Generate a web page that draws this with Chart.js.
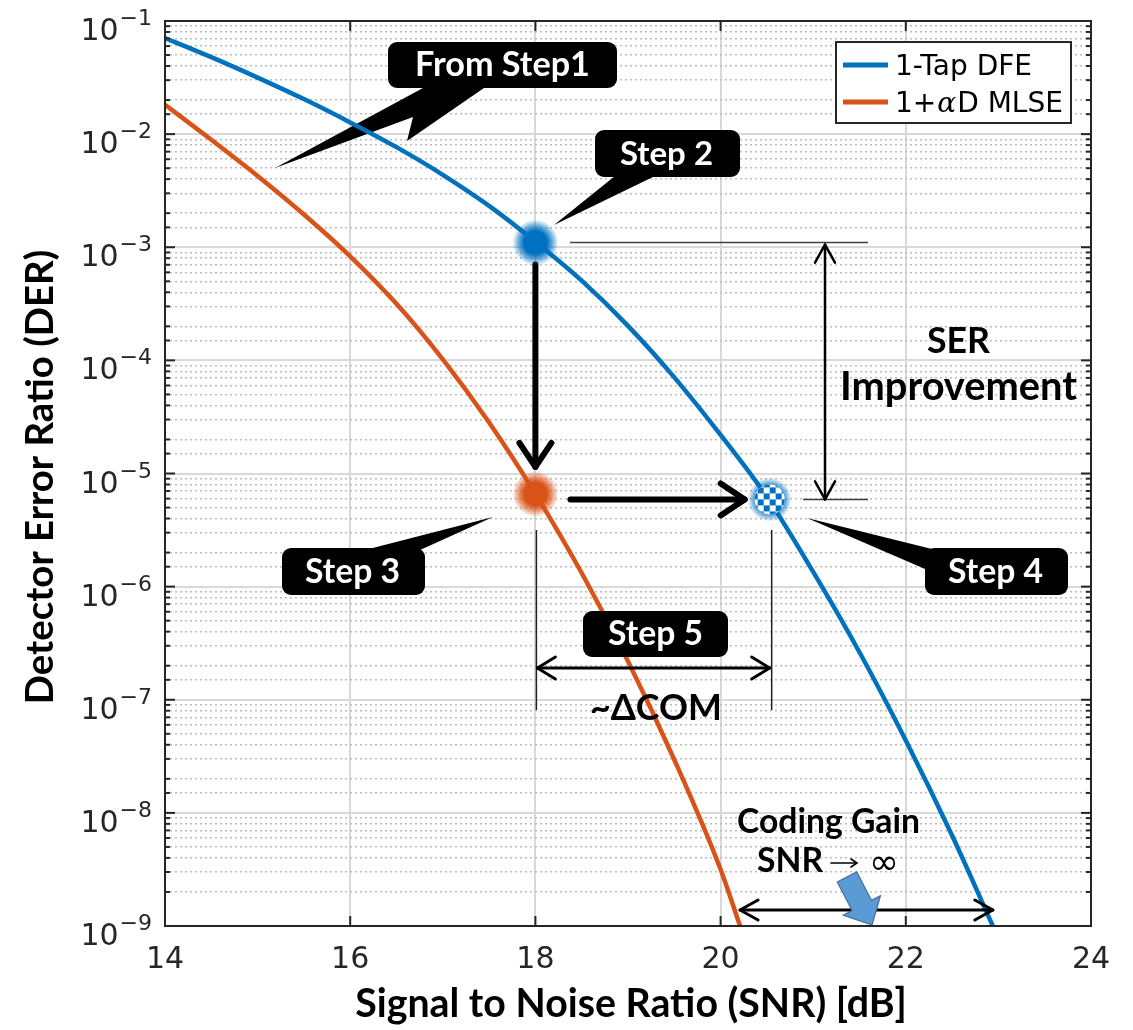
<!DOCTYPE html>
<html>
<head>
<meta charset="utf-8">
<script src="https://cdn.jsdelivr.net/npm/chart.js@4.4.1/dist/chart.umd.min.js"></script>
<style>
  html, body { margin: 0; background: #fff; }
  #wrap { width: 1133px; height: 1030px; }
</style>
</head>
<body>
<div id="wrap"><canvas id="derChart" width="1133" height="1030"></canvas></div>
<script>
  // values
  const dfeSnr = [14, 14.5, 15, 15.5, 16, 16.5, 17, 17.5, 18, 18.5, 19, 19.5, 20, 20.5, 21, 21.5, 22, 22.5, 22.94];
  const dfeDer = [7.08e-2, 4.79e-2, 3.16e-2, 2.04e-2, 1.27e-2, 7.67e-3, 4.37e-3, 2.32e-3, 1.12e-3, 5.07e-4, 2.02e-4, 7.08e-5, 2.19e-5, 6.2e-6, 1.35e-6, 2.63e-7, 4.37e-8, 6.31e-9, 1.0e-9];
  const mlseSnr = [14, 14.5, 15, 15.5, 16, 16.5, 17, 17.5, 18, 18.5, 19, 19.5, 20, 20.21];
  const mlseDer = [1.82e-2, 8.91e-3, 4.27e-3, 1.95e-3, 8.32e-4, 3.16e-4, 1.02e-4, 2.82e-5, 6.61e-6, 1.32e-6, 2.19e-7, 2.95e-8, 3.16e-9, 1.0e-9];
  const seriesLabels = ["1-Tap DFE", "1+αD MLSE"];
  const seriesColors = ["#0072BD", "#D95319"];
  const xTicks = [14, 16, 18, 20, 22, 24];
  // step 2 / step 3 / step 4 points
  const stepSnr = [18, 18, 20.53];
  const stepDer = [1.1e-3, 6.6e-6, 5.9e-6];

  const AX = "#262626";
  const BOLD = 'Lato, "Open Sans", sans-serif';
  const TICKFONT = '"DejaVu Sans", sans-serif';

  function isDecade(v) {
    const l = Math.log10(v);
    return Math.abs(l - Math.round(l)) < 1e-6;
  }

  function fitText(ctx, str, x, base, width, opt = {}) {
    const weight = opt.weight || "bold";
    const family = opt.family || BOLD;
    ctx.font = `${weight} 100px ${family}`;
    const size = (100 * width) / ctx.measureText(str).width;
    ctx.font = `${weight} ${size.toFixed(1)}px ${family}`;
    ctx.fillStyle = opt.color || "#000";
    ctx.textAlign = opt.align || "center";
    ctx.textBaseline = "alphabetic";
    ctx.fillText(str, x, base);
    return size;
  }

  function roundBox(ctx, x, y, w, h, r) {
    ctx.beginPath();
    ctx.moveTo(x + r, y);
    ctx.arcTo(x + w, y, x + w, y + h, r);
    ctx.arcTo(x + w, y + h, x, y + h, r);
    ctx.arcTo(x, y + h, x, y, r);
    ctx.arcTo(x, y, x + w, y, r);
    ctx.closePath();
    ctx.fillStyle = "#000";
    ctx.fill();
  }

  function poly(ctx, pts, fill) {
    ctx.beginPath();
    ctx.moveTo(pts[0][0], pts[0][1]);
    for (let i = 1; i < pts.length; i++) ctx.lineTo(pts[i][0], pts[i][1]);
    ctx.closePath();
    ctx.fillStyle = fill;
    ctx.fill();
  }

  function seg(ctx, x1, y1, x2, y2, w, color) {
    ctx.beginPath();
    ctx.moveTo(x1, y1);
    ctx.lineTo(x2, y2);
    ctx.lineWidth = w;
    ctx.strokeStyle = color;
    ctx.stroke();
  }

  function chevron(ctx, tx, ty, dx, dy, len, half) {
    const nx = -dy, ny = dx;
    ctx.beginPath();
    ctx.moveTo(tx - dx * len + nx * half, ty - dy * len + ny * half);
    ctx.lineTo(tx, ty);
    ctx.lineTo(tx - dx * len - nx * half, ty - dy * len - ny * half);
    ctx.stroke();
  }

  function arrow(ctx, x1, y1, x2, y2, w, len, half, both) {
    ctx.save();
    ctx.lineCap = "round";
    ctx.lineJoin = "round";
    seg(ctx, x1, y1, x2, y2, w, "#000");
    const L = Math.hypot(x2 - x1, y2 - y1);
    const dx = (x2 - x1) / L, dy = (y2 - y1) / L;
    chevron(ctx, x2, y2, dx, dy, len, half);
    if (both) chevron(ctx, x1, y1, -dx, -dy, len, half);
    ctx.restore();
  }

  function glow(ctx, x, y, r, rgb) {
    const g = ctx.createRadialGradient(x, y, 0, x, y, r);
    g.addColorStop(0, `rgba(${rgb},1)`);
    g.addColorStop(0.5, `rgba(${rgb},1)`);
    g.addColorStop(0.75, `rgba(${rgb},0.55)`);
    g.addColorStop(1, `rgba(${rgb},0)`);
    ctx.fillStyle = g;
    ctx.beginPath();
    ctx.arc(x, y, r, 0, Math.PI * 2);
    ctx.fill();
  }

  const matlabFrame = {
    id: "matlabFrame",
    beforeDatasetsDraw(chart) {
      const ctx = chart.ctx;
      // "From Step1" callout sits under the curves
      poly(ctx, [[275, 168], [413, 117], [407, 141], [484, 88], [423, 88]], "#000");
      roundBox(ctx, 388, 42, 229, 46, 9);
      fitText(ctx, "From Step1", 502.5, 76, 175, { color: "#fff" });
    },
    afterDatasetsDraw(chart) {
      const ctx = chart.ctx;
      const xs = chart.scales.x, ys = chart.scales.y;
      const p = stepSnr.map((s, i) => [xs.getPixelForValue(s), ys.getPixelForValue(stepDer[i])]);

      // reference lines
      seg(ctx, 570, p[0][1], 868, p[0][1], 1.5, "#404040");
      seg(ctx, 803, p[2][1], 868, p[2][1], 1.5, "#404040");
      seg(ctx, p[1][0] + 1, 530, p[1][0] + 1, 710, 1.5, "#202020");
      seg(ctx, p[2][0] + 2, 530, p[2][0] + 2, 710, 1.5, "#202020");

      // arrows
      arrow(ctx, p[0][0], p[0][1] + 22, p[0][0], p[1][1] - 27, 6, 24, 16, false);
      arrow(ctx, p[1][0] + 35, p[2][1], p[2][0] - 25, p[2][1], 6, 24, 16, false);
      arrow(ctx, 825, p[0][1] + 2, 825, p[2][1], 2.5, 18, 10, true);
      arrow(ctx, p[1][0] + 2, 668, p[2][0], 668, 3, 18, 11, true);
      const xg1 = xs.getPixelForValue(mlseSnr[mlseSnr.length - 1]);
      const xg2 = xs.getPixelForValue(dfeSnr[dfeSnr.length - 1]);
      arrow(ctx, xg1, 910, xg2, 910, 3, 18, 10, true);

      // blue block arrow
      {
        const t0 = [847, 877], tip = [872, 925];
        const L = Math.hypot(tip[0] - t0[0], tip[1] - t0[1]);
        const ux = (tip[0] - t0[0]) / L, uy = (tip[1] - t0[1]) / L;
        const nx = -uy, ny = ux;
        const hb = [tip[0] - ux * 22, tip[1] - uy * 22];
        const pts = [
          [t0[0] + nx * 11, t0[1] + ny * 11], [hb[0] + nx * 11, hb[1] + ny * 11],
          [hb[0] + nx * 21, hb[1] + ny * 21], tip,
          [hb[0] - nx * 21, hb[1] - ny * 21], [hb[0] - nx * 11, hb[1] - ny * 11],
          [t0[0] - nx * 11, t0[1] - ny * 11]
        ];
        poly(ctx, pts, "#5B9BD5");
        ctx.lineWidth = 1.2;
        ctx.strokeStyle = "#41719C";
        ctx.stroke();
      }

      // callouts
      poly(ctx, [[615, 176], [655, 176], [554, 225]], "#000");
      roundBox(ctx, 595, 130, 145, 47, 9);
      fitText(ctx, "Step 2", 666.5, 165, 93, { color: "#fff" });

      poly(ctx, [[365, 550], [420, 550], [493, 517]], "#000");
      roundBox(ctx, 282, 548, 143, 47, 9);
      fitText(ctx, "Step 3", 352.5, 583, 95, { color: "#fff" });

      poly(ctx, [[807, 518], [940, 551], [932, 572]], "#000");
      roundBox(ctx, 925, 548, 143, 47, 9);
      fitText(ctx, "Step 4", 995.5, 583, 95, { color: "#fff" });

      roundBox(ctx, 583, 611, 145, 46, 9);
      fitText(ctx, "Step 5", 655.5, 645, 95, { color: "#fff" });

      // markers
      glow(ctx, p[0][0], p[0][1], 23, "0,112,192");
      glow(ctx, p[1][0], p[1][1], 23, "217,83,25");
      glow(ctx, p[2][0], p[2][1], 22, "0,112,192");
      ctx.save();
      ctx.beginPath();
      ctx.arc(p[2][0], p[2][1], 15, 0, Math.PI * 2);
      ctx.clip();
      ctx.fillStyle = "#fff";
      ctx.fillRect(p[2][0] - 16, p[2][1] - 16, 32, 32);
      ctx.fillStyle = "#0070C0";
      for (let i = 0; i < 6; i++) {
        for (let j = 0; j < 6; j++) {
          if ((i + j) % 2 === 0) ctx.fillRect(p[2][0] - 18 + i * 6, p[2][1] - 18 + j * 6, 6, 6);
        }
      }
      ctx.restore();

      // text labels
      fitText(ctx, "~ΔCOM", 656, 720, 132);
      fitText(ctx, "SER", 958.5, 353, 63);
      fitText(ctx, "Improvement", 958.5, 400, 237);
      const cg = fitText(ctx, "Coding Gain", 828.5, 833, 183);
      ctx.font = `bold ${cg.toFixed(1)}px ${BOLD}`;
      ctx.textAlign = "left";
      ctx.fillText("SNR", 757, 872);
      // thin "→" drawn as a stroke
      ctx.save();
      ctx.lineCap = "round";
      seg(ctx, 831, 863, 856, 863, 1.6, "#000");
      chevron(ctx, 857, 863, 1, 0, 6, 4);
      ctx.restore();
      ctx.fillStyle = "#000";
      ctx.font = `36px "DejaVu Sans", sans-serif`;
      ctx.fillText("∞", 869, 874);
    },
    afterDraw(chart) {
      const ctx = chart.ctx;
      const a = chart.chartArea;
      const xs = chart.scales.x, ys = chart.scales.y;
      ctx.save();

      // inward tick marks
      ys.ticks.forEach(t => {
        const py = ys.getPixelForValue(t.value);
        const len = isDecade(t.value) ? 10 : 5;
        seg(ctx, a.left, py, a.left + len, py, 2, AX);
        seg(ctx, a.right - len, py, a.right, py, 2, AX);
      });
      xTicks.forEach(v => {
        const px = xs.getPixelForValue(v);
        seg(ctx, px, a.bottom, px, a.bottom - 10, 2, AX);
        seg(ctx, px, a.top, px, a.top + 10, 2, AX);
      });
      ctx.lineWidth = 2;
      ctx.strokeStyle = AX;
      ctx.strokeRect(a.left, a.top, a.right - a.left, a.bottom - a.top);

      // tick labels
      ctx.fillStyle = AX;
      ctx.textBaseline = "alphabetic";
      ys.ticks.filter(t => isDecade(t.value)).forEach(t => {
        const py = ys.getPixelForValue(t.value);
        const ex = "\u2212" + Math.abs(Math.round(Math.log10(t.value)));
        ctx.font = `22px ${TICKFONT}`;
        ctx.textAlign = "right";
        ctx.fillText(ex, a.left - 13, py + 4);
        const w = ctx.measureText(ex).width;
        ctx.font = `30px ${TICKFONT}`;
        ctx.fillText("10", a.left - 14 - w, py + 19);
      });
      ctx.font = `30px ${TICKFONT}`;
      ctx.textAlign = "center";
      xTicks.forEach(v => {
        ctx.fillText(String(v), xs.getPixelForValue(v), a.bottom + 42);
      });

      // axis titles
      fitText(ctx, "Signal to Noise Ratio (SNR) [dB]", 631, 1017, 552);
      ctx.save();
      ctx.translate(53, 477);
      ctx.rotate(-Math.PI / 2);
      fitText(ctx, "Detector Error Ratio (DER)", 0, 0, 455);
      ctx.restore();

      // legend
      ctx.fillStyle = "#fff";
      ctx.fillRect(836, 42, 235, 81);
      ctx.lineWidth = 2;
      ctx.strokeStyle = AX;
      ctx.strokeRect(836, 42, 235, 81);
      chart.data.datasets.forEach((ds, i) => {
        const ly = 65 + i * 37;
        seg(ctx, 843, ly, 888, ly, 5, ds.borderColor);
        ctx.fillStyle = "#000";
        ctx.textAlign = "left";
        let x = 895;
        const parts = ds.label.split("α");
        parts.forEach((part, k) => {
          ctx.font = `28px ${TICKFONT}`;
          ctx.fillText(part, x, ly + 10);
          x += ctx.measureText(part).width;
          if (k < parts.length - 1) {
            ctx.font = `italic 28px "DejaVu Serif", serif`;
            ctx.fillText("α", x + 1, ly + 10);
            x += ctx.measureText("α").width + 2;
          }
        });
      });
      ctx.restore();
    }
  };

  const ctx = document.getElementById("derChart").getContext("2d");
  const derChart = new Chart(ctx, {
    type: "line",
    data: {
      datasets: [
        {
          label: seriesLabels[0],
          data: dfeSnr.map((x, i) => ({ x, y: dfeDer[i] })),
          borderColor: seriesColors[0],
          borderWidth: 4.5,
          pointRadius: 0,
          fill: false,
          cubicInterpolationMode: "monotone",
        },
        {
          label: seriesLabels[1],
          data: mlseSnr.map((x, i) => ({ x, y: mlseDer[i] })),
          borderColor: seriesColors[1],
          borderWidth: 4.5,
          pointRadius: 0,
          fill: false,
          cubicInterpolationMode: "monotone",
        },
      ],
    },
    options: {
      responsive: false,
      animation: false,
      devicePixelRatio: 1,
      layout: { padding: { top: 21, right: 42, left: 0, bottom: 0 } },
      plugins: {
        legend: { display: false },
        tooltip: { enabled: false },
      },
      scales: {
        x: {
          type: "linear",
          min: 14,
          max: 24,
          ticks: { stepSize: 2, display: false },
          grid: { color: "#d9d9d9", lineWidth: 2, drawTicks: false },
          border: { display: false },
          afterFit(s) { s.height = 104; },
        },
        y: {
          type: "logarithmic",
          min: 1e-9,
          max: 1e-1,
          ticks: { display: false },
          grid: {
            color: c => (c.tick && isDecade(c.tick.value) ? "#d9d9d9" : "#bcbcbc"),
            lineWidth: c => (c.tick && isDecade(c.tick.value) ? 2 : 1.5),
            drawTicks: false,
          },
          border: {
            display: false,
            dash: c => (c.tick && isDecade(c.tick.value) ? [] : [2, 3]),
          },
          afterFit(s) { s.width = 165; },
        },
      },
    },
    plugins: [matlabFrame],
  });
</script>
</body>
</html>
